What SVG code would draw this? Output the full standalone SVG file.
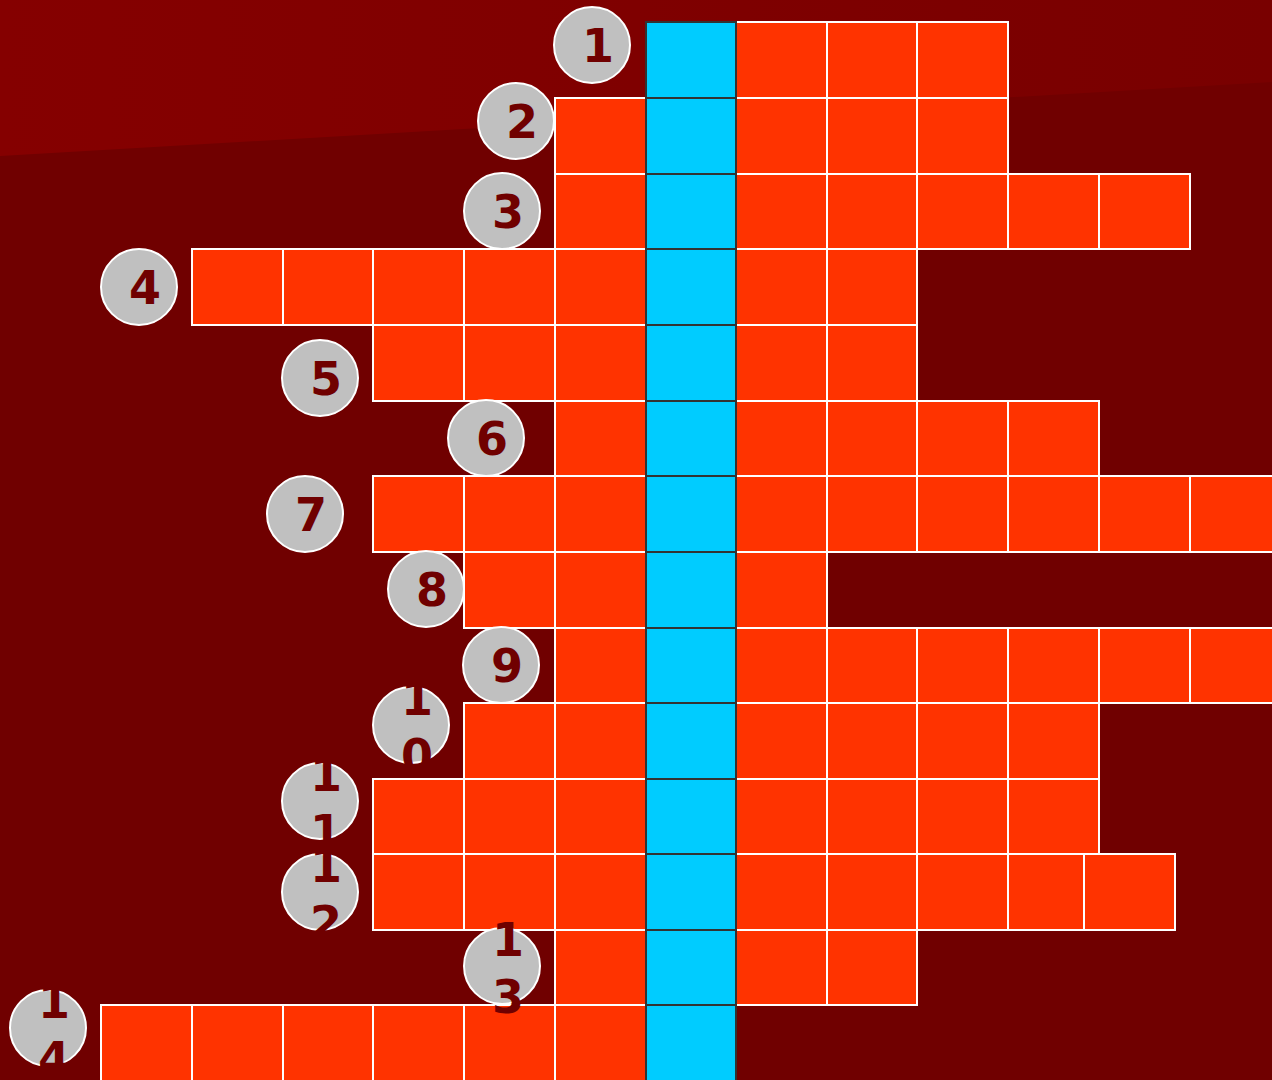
<svg xmlns="http://www.w3.org/2000/svg" width="1272" height="1080" viewBox="0 0 1272 1080">
<defs>
<linearGradient id="bgTop" x1="0" y1="0" x2="1" y2="0">
<stop offset="0" stop-color="#850000"/>
<stop offset="1" stop-color="#790000"/>
</linearGradient>
<style>
.r{fill:#FF3300;stroke:#FFFFFF;stroke-width:2}
.c{fill:#00CCFF;stroke:#333333;stroke-width:2}
.n circle{fill:#C0C0C0;stroke:#FFFFFF;stroke-width:2}
.n text{fill:#700000;font-family:"DejaVu Sans",Verdana,sans-serif;font-weight:bold;font-size:46px;text-anchor:middle}
</style>
</defs>
<rect x="0" y="0" width="1272" height="1080" fill="#700000"/>
<polygon points="0,0 1272,0 1272,82 0,156" fill="url(#bgTop)"/>

<g id="row1">
<rect class="r" x="736" y="22" width="91" height="76"/><rect class="r" x="827" y="22" width="90" height="76"/><rect class="r" x="917" y="22" width="91" height="76"/>
<rect class="c" x="646" y="22" width="90" height="76"/>
</g>
<g id="row2">
<rect class="r" x="555" y="98" width="91" height="76"/><rect class="r" x="736" y="98" width="91" height="76"/><rect class="r" x="827" y="98" width="90" height="76"/><rect class="r" x="917" y="98" width="91" height="76"/>
<rect class="c" x="646" y="98" width="90" height="76"/>
</g>
<g id="row3">
<rect class="r" x="555" y="174" width="91" height="75"/><rect class="r" x="736" y="174" width="91" height="75"/><rect class="r" x="827" y="174" width="90" height="75"/><rect class="r" x="917" y="174" width="91" height="75"/><rect class="r" x="1008" y="174" width="91" height="75"/><rect class="r" x="1099" y="174" width="91" height="75"/>
<rect class="c" x="646" y="174" width="90" height="75"/>
</g>
<g id="row4">
<rect class="r" x="192" y="249" width="91" height="76"/><rect class="r" x="283" y="249" width="90" height="76"/><rect class="r" x="373" y="249" width="91" height="76"/><rect class="r" x="464" y="249" width="91" height="76"/><rect class="r" x="555" y="249" width="91" height="76"/><rect class="r" x="736" y="249" width="91" height="76"/><rect class="r" x="827" y="249" width="90" height="76"/>
<rect class="c" x="646" y="249" width="90" height="76"/>
</g>
<g id="row5">
<rect class="r" x="373" y="325" width="91" height="76"/><rect class="r" x="464" y="325" width="91" height="76"/><rect class="r" x="555" y="325" width="91" height="76"/><rect class="r" x="736" y="325" width="91" height="76"/><rect class="r" x="827" y="325" width="90" height="76"/>
<rect class="c" x="646" y="325" width="90" height="76"/>
</g>
<g id="row6">
<rect class="r" x="555" y="401" width="91" height="75"/><rect class="r" x="736" y="401" width="91" height="75"/><rect class="r" x="827" y="401" width="90" height="75"/><rect class="r" x="917" y="401" width="91" height="75"/><rect class="r" x="1008" y="401" width="91" height="75"/>
<rect class="c" x="646" y="401" width="90" height="75"/>
</g>
<g id="row7">
<rect class="r" x="373" y="476" width="91" height="76"/><rect class="r" x="464" y="476" width="91" height="76"/><rect class="r" x="555" y="476" width="91" height="76"/><rect class="r" x="736" y="476" width="91" height="76"/><rect class="r" x="827" y="476" width="90" height="76"/><rect class="r" x="917" y="476" width="91" height="76"/><rect class="r" x="1008" y="476" width="91" height="76"/><rect class="r" x="1099" y="476" width="91" height="76"/><rect class="r" x="1190" y="476" width="91" height="76"/>
<rect class="c" x="646" y="476" width="90" height="76"/>
</g>
<g id="row8">
<rect class="r" x="464" y="552" width="91" height="76"/><rect class="r" x="555" y="552" width="91" height="76"/><rect class="r" x="736" y="552" width="91" height="76"/>
<rect class="c" x="646" y="552" width="90" height="76"/>
</g>
<g id="row9">
<rect class="r" x="555" y="628" width="91" height="75"/><rect class="r" x="736" y="628" width="91" height="75"/><rect class="r" x="827" y="628" width="90" height="75"/><rect class="r" x="917" y="628" width="91" height="75"/><rect class="r" x="1008" y="628" width="91" height="75"/><rect class="r" x="1099" y="628" width="91" height="75"/><rect class="r" x="1190" y="628" width="91" height="75"/>
<rect class="c" x="646" y="628" width="90" height="75"/>
</g>
<g id="row10">
<rect class="r" x="464" y="703" width="91" height="76"/><rect class="r" x="555" y="703" width="91" height="76"/><rect class="r" x="736" y="703" width="91" height="76"/><rect class="r" x="827" y="703" width="90" height="76"/><rect class="r" x="917" y="703" width="91" height="76"/><rect class="r" x="1008" y="703" width="91" height="76"/>
<rect class="c" x="646" y="703" width="90" height="76"/>
</g>
<g id="row11">
<rect class="r" x="373" y="779" width="91" height="75"/><rect class="r" x="464" y="779" width="91" height="75"/><rect class="r" x="555" y="779" width="91" height="75"/><rect class="r" x="736" y="779" width="91" height="75"/><rect class="r" x="827" y="779" width="90" height="75"/><rect class="r" x="917" y="779" width="91" height="75"/><rect class="r" x="1008" y="779" width="91" height="75"/>
<rect class="c" x="646" y="779" width="90" height="75"/>
</g>
<g id="row12">
<rect class="r" x="373" y="854" width="91" height="76"/><rect class="r" x="464" y="854" width="91" height="76"/><rect class="r" x="555" y="854" width="91" height="76"/><rect class="r" x="736" y="854" width="91" height="76"/><rect class="r" x="827" y="854" width="90" height="76"/><rect class="r" x="917" y="854" width="91" height="76"/><rect class="r" x="1008" y="854" width="76" height="76"/><rect class="r" x="1084" y="854" width="91" height="76"/>
<rect class="c" x="646" y="854" width="90" height="76"/>
</g>
<g id="row13">
<rect class="r" x="555" y="930" width="91" height="75"/><rect class="r" x="736" y="930" width="91" height="75"/><rect class="r" x="827" y="930" width="90" height="75"/>
<rect class="c" x="646" y="930" width="90" height="75"/>
</g>
<g id="row14">
<rect class="r" x="101" y="1005" width="91" height="76"/><rect class="r" x="192" y="1005" width="91" height="76"/><rect class="r" x="283" y="1005" width="90" height="76"/><rect class="r" x="373" y="1005" width="91" height="76"/><rect class="r" x="464" y="1005" width="91" height="76"/><rect class="r" x="555" y="1005" width="91" height="76"/>
<rect class="c" x="646" y="1005" width="90" height="76"/>
</g>

<g id="num1" class="n"><circle cx="592" cy="45" r="38"/><text x="598" y="62">1</text></g>
<g id="num2" class="n"><circle cx="516" cy="121" r="38"/><text x="522" y="138">2</text></g>
<g id="num3" class="n"><circle cx="502" cy="211" r="38"/><text x="508" y="228">3</text></g>
<g id="num4" class="n"><circle cx="139" cy="287" r="38"/><text x="145" y="304">4</text></g>
<g id="num5" class="n"><circle cx="320" cy="378" r="38"/><text x="326" y="395">5</text></g>
<g id="num6" class="n"><circle cx="486" cy="438" r="38"/><text x="492" y="455">6</text></g>
<g id="num7" class="n"><circle cx="305" cy="514" r="38"/><text x="311" y="531">7</text></g>
<g id="num8" class="n"><circle cx="426" cy="589" r="38"/><text x="432" y="606">8</text></g>
<g id="num9" class="n"><circle cx="501" cy="665" r="38"/><text x="507" y="682">9</text></g>
<g id="num10" class="n"><circle cx="411" cy="725" r="38"/><text x="417" y="715">1</text><text x="417" y="772">0</text></g>
<g id="num11" class="n"><circle cx="320" cy="801" r="38"/><text x="326" y="791">1</text><text x="326" y="848">1</text></g>
<g id="num12" class="n"><circle cx="320" cy="892" r="38"/><text x="326" y="882">1</text><text x="326" y="939">2</text></g>
<g id="num13" class="n"><circle cx="502" cy="966" r="38"/><text x="508" y="956">1</text><text x="508" y="1013">3</text></g>
<g id="num14" class="n"><circle cx="48" cy="1028" r="38"/><text x="54" y="1018">1</text><text x="54" y="1075">4</text></g>
</svg>
